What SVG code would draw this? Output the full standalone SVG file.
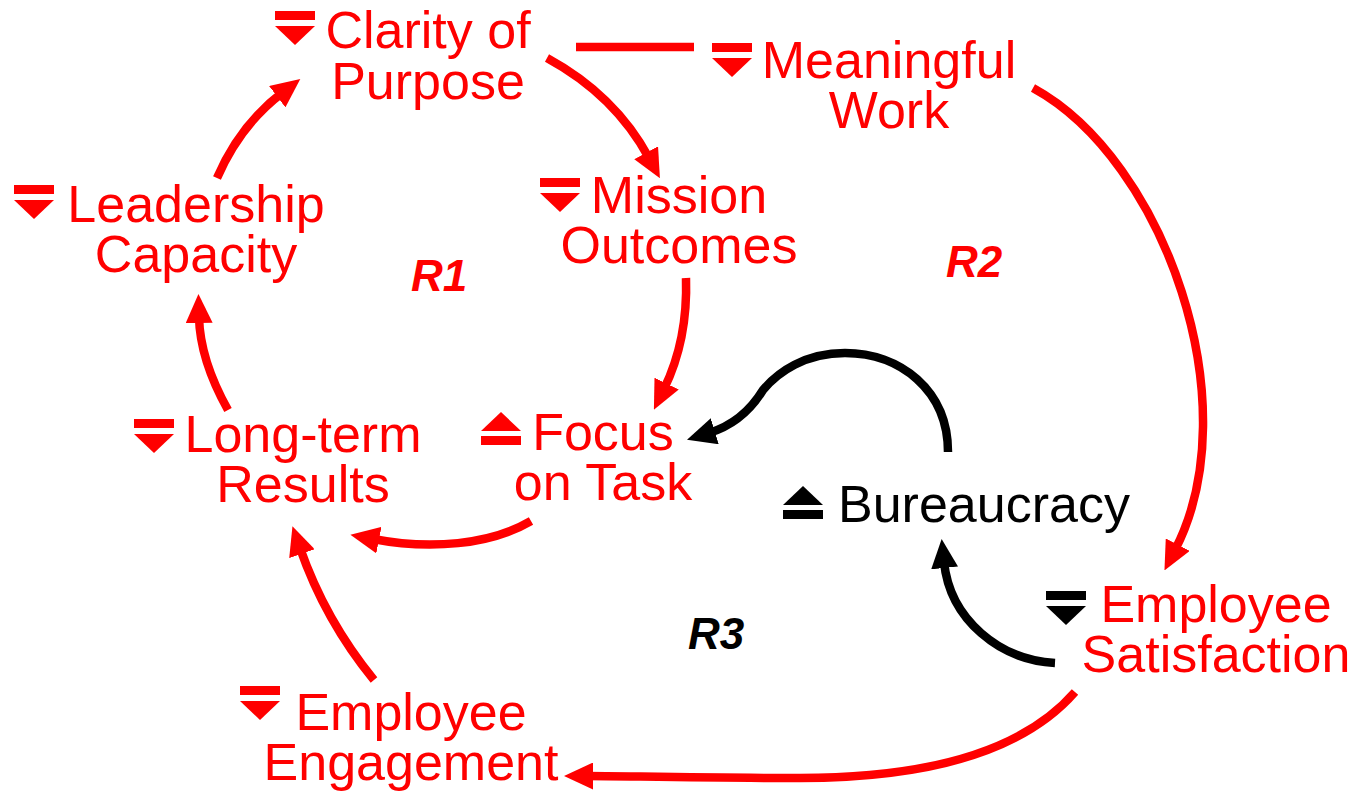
<svg xmlns="http://www.w3.org/2000/svg" width="1356" height="795" viewBox="0 0 1356 795">
<style>
text{font-family:"Liberation Sans",Arial,sans-serif;font-size:52px}
.r{fill:#FF0000}
.k{fill:#000}
.lbl{font-size:44px;font-weight:bold;font-style:italic}
.c{fill:none;stroke-width:8.5}
.cr{stroke:#FF0000}
.ck{stroke:#000}
</style>
<defs>
<marker id="ar" markerUnits="userSpaceOnUse" viewBox="0 0 29 27" markerWidth="29" markerHeight="27" refX="6" refY="13.5" orient="auto"><path d="M0,0 L29,13.5 L0,27 z" fill="#FF0000"/></marker>
<marker id="ak" markerUnits="userSpaceOnUse" viewBox="0 0 29 27" markerWidth="29" markerHeight="27" refX="6" refY="13.5" orient="auto"><path d="M0,0 L29,13.5 L0,27 z" fill="#000"/></marker>
<symbol id="dn" overflow="visible"><rect x="0" y="0" width="40" height="9"/><path d="M0,15 L40,15 L20,34 z"/></symbol>
<symbol id="up" overflow="visible"><path d="M20,0 L40,19 L0,19 z"/><rect x="0" y="24" width="40" height="9"/></symbol>
</defs>
<g id="connectors">
<path class="c cr" d="M547,58 Q615,95 649,158" marker-end="url(#ar)"/>
<path class="c cr" d="M576,47 L694,47" stroke-width="9"/>
<path class="c cr" d="M1033,88 C1165,160 1250,405 1175,550" marker-end="url(#ar)"/>
<path class="c cr" d="M686,278 Q688,340 664,389" marker-end="url(#ar)"/>
<path class="c cr" d="M531,521 C490,545 430,550 373,539" marker-end="url(#ar)"/>
<path class="c cr" d="M228,410 Q200,360 199,317" marker-end="url(#ar)"/>
<path class="c cr" d="M217,178 Q240,125 282,93" marker-end="url(#ar)"/>
<path class="c cr" d="M374,680 Q325,620 300,548" marker-end="url(#ar)"/>
<path class="c cr" d="M1075,692 C1020,755 920,778 800,778 C700,778 620,776 587,776" marker-end="url(#ar)"/>
<path class="c ck" d="M1055,663 C1000,660 950,620 944,562" marker-end="url(#ak)"/>
<path class="c ck" d="M948,452 C948,390 900,353 845,353 C805,353 778,372 763,390 C752,408 735,425 709,433" marker-end="url(#ak)"/>
</g>
<g id="clarity"><use href="#dn" x="275" y="11" class="r"/><text class="r" text-anchor="middle"><tspan x="428" y="48">Clarity of</tspan><tspan x="428" y="99">Purpose</tspan></text></g>
<g id="meaningful"><use href="#dn" x="712" y="43" class="r"/><text class="r" text-anchor="middle"><tspan x="889" y="78">Meaningful</tspan><tspan x="889" y="128">Work</tspan></text></g>
<g id="mission"><use href="#dn" x="540" y="178" class="r"/><text class="r" text-anchor="middle"><tspan x="679" y="213">Mission</tspan><tspan x="679" y="263">Outcomes</tspan></text></g>
<g id="leadership"><use href="#dn" x="14" y="185" class="r"/><text class="r" text-anchor="middle"><tspan x="196" y="222">Leadership</tspan><tspan x="196" y="272">Capacity</tspan></text></g>
<g id="longterm"><use href="#dn" x="134" y="419" class="r"/><text class="r" text-anchor="middle"><tspan x="303" y="452">Long-term</tspan><tspan x="303" y="502">Results</tspan></text></g>
<g id="focus"><use href="#up" x="481" y="412" class="r"/><text class="r" text-anchor="middle"><tspan x="603" y="450">Focus</tspan><tspan x="603" y="500">on Task</tspan></text></g>
<g id="bureaucracy"><use href="#up" x="783" y="486" class="k"/><text class="k" x="838" y="522">Bureaucracy</text></g>
<g id="satisfaction"><use href="#dn" x="1046" y="591" class="k"/><text class="r" text-anchor="middle"><tspan x="1216" y="622">Employee</tspan><tspan x="1216" y="672">Satisfaction</tspan></text></g>
<g id="engagement"><use href="#dn" x="240" y="686" class="r"/><text class="r" text-anchor="middle"><tspan x="411" y="730">Employee</tspan><tspan x="411" y="780">Engagement</tspan></text></g>
<g id="loops">
<text class="r lbl" x="411" y="291">R1</text>
<text class="r lbl" x="946" y="277">R2</text>
<text class="k lbl" x="688" y="649">R3</text>
</g>
</svg>
